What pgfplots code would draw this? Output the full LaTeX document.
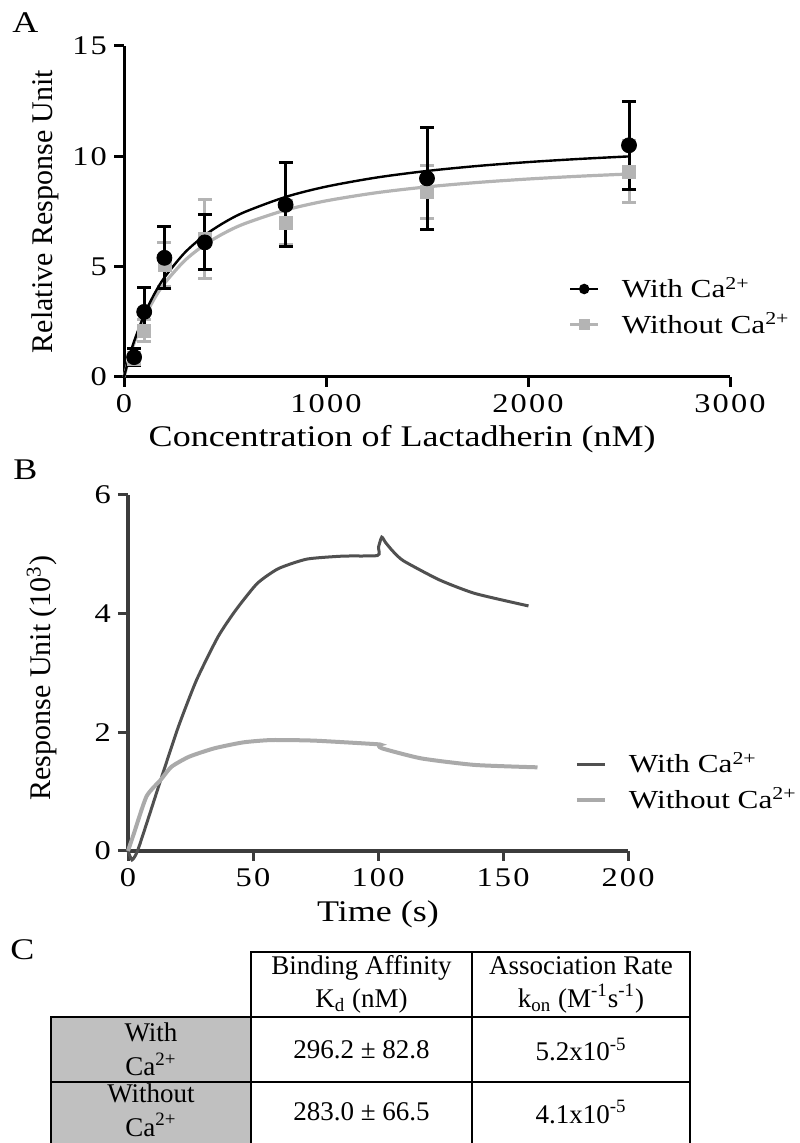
\documentclass[border=0pt]{standalone}
\usepackage{fontspec}
\setmainfont{Liberation Serif}[FakeStretch=1.2]
\newfontfamily\tickfont{Liberation Serif}[FakeStretch=1.2,LetterSpace=8]
\newfontfamily\upfont{Liberation Serif}
\usepackage{pgfplots}
\pgfplotsset{compat=1.18}

\definecolor{lgray}{RGB}{180,180,180}
\definecolor{dline}{RGB}{80,80,80}
\definecolor{lline}{RGB}{170,170,170}
\definecolor{baxis}{RGB}{60,60,60}
\definecolor{cellgray}{RGB}{192,192,192}

\newcommand\fs{\fontsize{13.5pt}{16pt}\selectfont}
\newcommand\fg{\fontsize{13pt}{15pt}\selectfont}
\newcommand\fl{\fontsize{15pt}{17pt}\selectfont}

\pgfplotsset{
  prism/.style={
    scale only axis, anchor=south west,
    axis lines=left,
    axis line style={-, line width=1.5pt},
    tick align=outside, major tick length=5pt,
    every tick/.style={line width=1.5pt},
    tick label style={font=\tickfont\fs},
    /pgf/number format/assume math mode=true,
    /pgf/number format/1000 sep={},
    clip=false,
    legend cell align=left,
  },
  ebar/.style={only marks, error bars/.cd, y dir=both, y explicit,
    error mark=-,
    error bar style={line width=1.5pt, #1},
    error mark options={#1, rotate=90, line width=1.5pt, mark size=3.5pt}},
}

% panel A: one-site binding, mean and SD
\pgfplotstableread{
x y e
50 0.9 0.4
100 2.95 1.1
200 5.4 1.4
400 6.1 1.25
800 7.8 1.9
1500 9.0 2.3
2500 10.5 2.0
}\withca
\pgfplotstableread{
x y e
50 0.8 0.3
100 2.1 0.5
200 5.1 1.0
400 6.25 1.8
800 7.0 1.0
1500 8.4 1.2
2500 9.3 1.4
}\withoutca

\begin{document}
\begin{tikzpicture}
\path[use as bounding box] (0,0) rectangle (399.5pt,571.5pt);

\node[anchor=base west, inner sep=0pt, font=\fl] at (6pt,555pt) {A};
\node[anchor=base west, inner sep=0pt, font=\fl] at (6.5pt,331.5pt) {B};
\node[anchor=base west, inner sep=0pt, font=\fl] at (5pt,91.5pt) {C};

\begin{axis}[prism, at={(62pt,383pt)}, width=303pt, height=165.5pt,
  xmin=0, xmax=3000, ymin=0, ymax=15,
  xtick={0,1000,2000,3000}, ytick={0,5,10,15},
  xlabel={Concentration of Lactadherin (nM)},
  xlabel style={font=\fl, at={(axis description cs:0.459,0)}, anchor=base, yshift=-35pt},
  ylabel={Relative Response Unit},
  ylabel style={font=\upfont\fl, at={(axis description cs:-0.13,0.5)}, anchor=center, rotate=0},
  legend style={at={(0.733,0.315)}, anchor=north west, draw=none, fill=none,
    font=\fg, row sep=2pt, inner sep=0pt,
    /tikz/every odd column/.append style={column sep=9pt}},
  legend image code/.code={\draw[mark repeat=2,mark phase=2,#1] plot coordinates {(0pt,0pt) (7pt,0pt) (14pt,0pt)};},
]
\addplot[forget plot, lgray, line width=1.6pt, smooth] coordinates {
(0,0) (25,0.831) (50,1.538) (100,2.674) (150,3.547) (200,4.240) (300,5.269)
(400,5.997) (500,6.539) (600,6.958) (800,7.564) (1000,7.981) (1250,8.350)
(1500,8.615) (1750,8.815) (2000,8.971) (2250,9.096) (2500,9.199)};
\addplot[forget plot, lgray, mark=square*, mark size=3.25pt, ebar=lgray]
  table[x=x, y=y, y error=e] {\withoutca};
\addplot[forget plot, black, line width=1.2pt, smooth] coordinates {
(0,0) (25,0.870) (50,1.615) (100,2.822) (150,3.758) (200,4.506) (300,5.626)
(400,6.423) (500,7.021) (600,7.485) (800,8.159) (1000,8.625) (1250,9.038)
(1500,9.336) (1750,9.562) (2000,9.738) (2250,9.879) (2500,9.996)};
\addplot[forget plot, black, mark=*, mark size=3.75pt, ebar=black]
  table[x=x, y=y, y error=e] {\withca};
\addlegendimage{black, line width=1.2pt, mark=*, mark size=2pt}
\addlegendentry{With Ca\textsuperscript{2+}}
\addlegendimage{lgray, line width=1.6pt, mark=square*, mark size=2pt}
\addlegendentry{Without Ca\textsuperscript{2+}}
\end{axis}

\begin{axis}[prism, at={(64pt,146pt)}, width=250pt, height=178pt,
  xmin=0, xmax=200, ymin=0, ymax=6,
  xtick={0,50,100,150,200}, ytick={0,2,4,6},
  axis line style={baxis, line width=1.7pt}, every tick/.append style={baxis},
  xlabel={Time (s)},
  xlabel style={font=\fl, at={(axis description cs:0.5,0)}, anchor=base, yshift=-35.5pt},
  ylabel={Response Unit (10\textsuperscript{3})},
  ylabel style={font=\upfont\fl, at={(axis description cs:-0.172,0.486)}, anchor=center, rotate=0},
  legend style={at={(0.893,0.29)}, anchor=north west, draw=none, fill=none,
    font=\fg, row sep=2pt, inner sep=0pt,
    /tikz/every odd column/.append style={column sep=9pt}},
  legend image code/.code={\draw[#1] (0pt,0pt) -- (14pt,0pt);},
]
\addplot[dline, line width=1.5pt, smooth, tension=0.35] coordinates {
(0,0) (1.6,-0.15) (3.8,0) (8.5,0.6) (13.1,1.20) (20.2,2.10) (27.4,2.88)
(36.0,3.61) (43.1,4.06) (51.7,4.51) (60.2,4.76) (71.6,4.92) (86.0,4.97)
(99.8,4.98) (100.2,5.12) (101.5,5.29) (103,5.20) (106,5.05) (110.2,4.89)
(124.5,4.57) (138.8,4.34) (160.2,4.13)};
\addlegendentry{With Ca\textsuperscript{2+}}
\addplot[lline, line width=2pt, smooth, tension=0.35] coordinates {
(0,0) (2.4,0.30) (7.4,0.92) (13.1,1.20) (17.4,1.42) (24.5,1.59) (34.5,1.73)
(46.0,1.83) (57.4,1.87) (74.5,1.86) (99.5,1.80) (100.3,1.79) (101.6,1.73)
(117.4,1.56) (138.8,1.45) (163.8,1.41)};
\addlegendentry{Without Ca\textsuperscript{2+}}
\end{axis}

% panel C: summary table
\fill[cellgray] (25.5pt,0pt) rectangle (125.5pt,63pt);
\begin{scope}[line width=1.3pt]
\draw (125.5pt,0pt) -- (125.5pt,95.5pt) -- (345pt,95.5pt) -- (345pt,0pt);
\draw (236pt,0pt) -- (236pt,95.5pt);
\draw (25.5pt,0pt) -- (25.5pt,63pt) -- (345pt,63pt);
\draw (25.5pt,30.5pt) -- (345pt,30.5pt);
\end{scope}
\begin{scope}[every node/.style={align=center, inner sep=0pt, font=\upfont\fontsize{13.5pt}{14pt}\selectfont}]
\node at (180.75pt,79.25pt) {Binding Affinity\\[2.5pt]K\textsubscript{d} (nM)};
\node at (290.5pt,79.25pt) {Association Rate\\[2.5pt]k\textsubscript{on} (M\textsuperscript{-1}s\textsuperscript{-1})};
\node at (75.5pt,46.75pt) {With\\[3pt]Ca\textsuperscript{2+}};
\node at (180.75pt,46.75pt) {296.2 ± 82.8};
\node at (290.5pt,46.75pt) {5.2x10\textsuperscript{-5}};
\node at (75.5pt,16.5pt) {Without\\[3pt]Ca\textsuperscript{2+}};
\node at (180.75pt,15.5pt) {283.0 ± 66.5};
\node at (290.5pt,15.5pt) {4.1x10\textsuperscript{-5}};
\end{scope}
\end{tikzpicture}
\end{document}
